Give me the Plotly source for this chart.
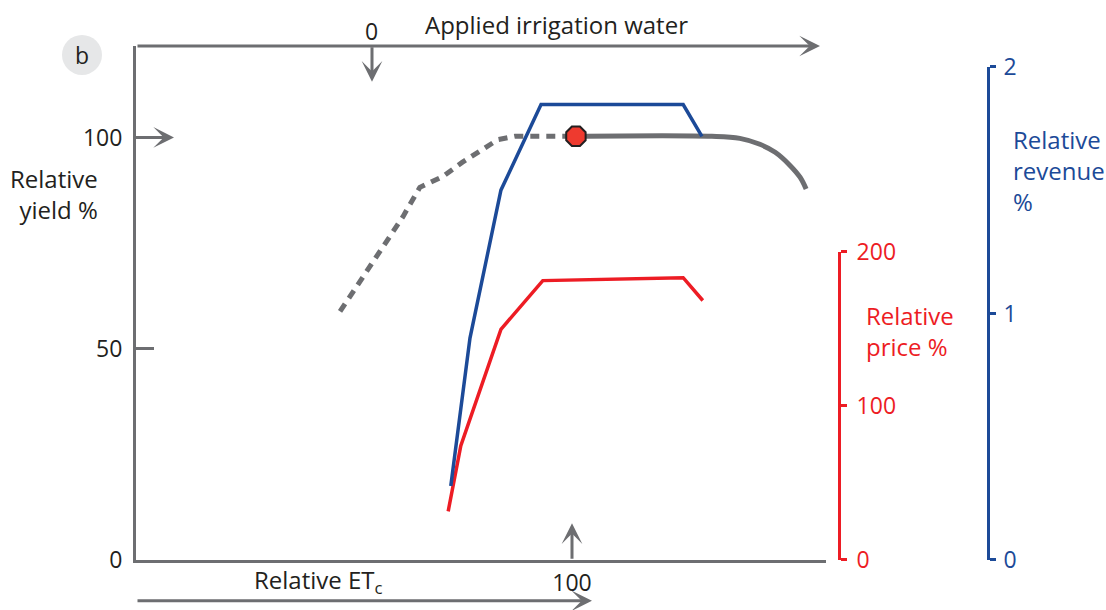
import plotly.graph_objects as go

# ---- data ----
yield_deficit_x = [46.8, 55.3, 61.2, 65.1, 70.4, 74.8, 78.9, 83.0, 86.9, 100.0]
yield_deficit_y = [58.9, 72.1, 81.3, 88.3, 90.9, 94.2, 96.8, 99.6, 100.4, 100.4]
yield_excess_x = [100.0, 132.1, 138.5, 143.1, 146.6, 150.0, 152.3, 153.7]
yield_excess_y = [100.4, 100.4, 99.9, 98.5, 96.6, 93.5, 90.7, 87.9]
optimum_x = [100.9]
optimum_y = [100.4]
price_x = [71.6, 74.5, 83.7, 93.3, 125.5, 130.0]
price_y = [31.6, 74.2, 149.7, 181.3, 183.2, 168.4]
revenue_x = [72.2, 76.6, 83.7, 92.9, 125.5, 129.8]
revenue_y = [0.30, 0.90, 1.50, 1.847, 1.847, 1.718]

yield_ticks = [0, 50, 100]
price_ticks = [0, 100, 200]
revenue_ticks = [0, 1, 2]
et_ticks = [100]

GRAY = "#6d6e71"
RED = "#ed1c24"
BLUE = "#1c4a98"
BLACK = "#231f20"
FONT = "Open Sans"
TICK = 23
LAB = 24

# plot area in screenshot pixels
L, R, T, B = 136, 1000, 46, 563
W, H = 1106, 610
PW, PH = R - L, B - T


def px(xp):
    return (xp - L) / PW


def py(yp):
    return (B - yp) / PH


fig = go.Figure()
fig.add_trace(go.Scatter(x=yield_deficit_x, y=yield_deficit_y, mode="lines",
                         line=dict(color=GRAY, width=5, dash="9px,7px"),
                         xaxis="x", yaxis="y", hoverinfo="skip"))
fig.add_trace(go.Scatter(x=yield_excess_x, y=yield_excess_y, mode="lines",
                         line=dict(color=GRAY, width=5, shape="spline"),
                         xaxis="x", yaxis="y", hoverinfo="skip"))
fig.add_trace(go.Scatter(x=optimum_x, y=optimum_y, mode="markers",
                         marker=dict(symbol="octagon", size=21, color="#ee3a2f",
                                     line=dict(color=BLACK, width=2)),
                         xaxis="x", yaxis="y", cliponaxis=False, hoverinfo="skip"))
fig.add_trace(go.Scatter(x=price_x, y=price_y, mode="lines",
                         line=dict(color=RED, width=3.5),
                         xaxis="x", yaxis="y2", hoverinfo="skip"))
fig.add_trace(go.Scatter(x=revenue_x, y=revenue_y, mode="lines",
                         line=dict(color=BLUE, width=3.5),
                         xaxis="x", yaxis="y3", hoverinfo="skip"))

fig.update_layout(
    width=W, height=H,
    margin=dict(l=L, r=W - R, t=T, b=H - B),
    paper_bgcolor="white", plot_bgcolor="rgba(0,0,0,0)",
    showlegend=False,
    font=dict(family=FONT, size=TICK, color=BLACK),
    xaxis=dict(domain=[0, px(826)], range=[0, 690 / 4.36], showline=True,
               linecolor=GRAY, linewidth=3, showgrid=False, zeroline=False,
               tickvals=et_ticks, ticktext=[str(v) for v in et_ticks], ticks="",
               tickfont=dict(size=TICK, color=BLACK), anchor="y", fixedrange=True),
    yaxis=dict(domain=[0, 1], range=[0, PH / 4.245], showline=True,
               linecolor=GRAY, linewidth=3, showgrid=False, zeroline=False,
               tickvals=yield_ticks, ticktext=[str(v) for v in yield_ticks],
               ticks="inside", ticklen=18, tickwidth=2.5, tickcolor=GRAY,
               ticklabelstandoff=6,
               tickfont=dict(size=TICK, color=BLACK), anchor="x", fixedrange=True),
    yaxis2=dict(domain=[0, (B - 253) / PH], range=[0, 200], anchor="free",
                position=px(839), side="right", showline=True, linecolor=RED,
                linewidth=3, showgrid=False, zeroline=False, tickvals=price_ticks,
                ticks="outside", ticklen=6, tickwidth=3, tickcolor=RED,
                ticklabelstandoff=5,
                tickfont=dict(size=TICK, color=RED), fixedrange=True),
    yaxis3=dict(domain=[0, (B - 67) / PH], range=[0, 2], anchor="free",
                position=px(988), side="right", showline=True, linecolor=BLUE,
                linewidth=3, showgrid=False, zeroline=False, tickvals=revenue_ticks,
                ticks="outside", ticklen=6, tickwidth=3, tickcolor=BLUE,
                ticklabelstandoff=3,
                tickfont=dict(size=TICK, color=BLUE), fixedrange=True),
)

anns = []


def arrow(tail, tip):
    anns.append(dict(xref="paper", yref="paper", x=px(tip[0]), y=py(tip[1]),
                     ax=tail[0] - tip[0], ay=tail[1] - tip[1], axref="pixel", ayref="pixel",
                     text="", showarrow=True, arrowhead=3, arrowsize=1.15,
                     arrowwidth=3, arrowcolor=GRAY, standoff=0, startstandoff=0))


def label(text, x, y, color=BLACK, align="center", xanchor="center", size=LAB):
    anns.append(dict(xref="paper", yref="paper", x=px(x), y=py(y), text=text,
                     showarrow=False, font=dict(size=size, color=color, family=FONT),
                     align=align, xanchor=xanchor, yanchor="middle"))


arrow((136, 46), (820, 46))
arrow((372, 46), (372, 82))
arrow((136, 138), (174, 138))
arrow((572, 563), (572, 526))
arrow((136, 604), (592, 604))

label("Applied irrigation water", 556, 24)
label("0", 371, 31, size=TICK)
label("Relative<br>yield %", 100, 195, align="right", xanchor="right")
label("Relative ET<sub>c</sub>", 318, 584)
label("Relative<br>price %", 864, 333, color=RED, align="left", xanchor="left")
label("Relative<br>revenue<br>%", 1011, 171, color=BLUE, align="left", xanchor="left")
label("b", 82, 55, size=TICK)

fig.update_layout(annotations=anns)
fig.add_shape(type="circle", xref="paper", yref="paper", xsizemode="pixel",
              ysizemode="pixel", xanchor=px(82), yanchor=py(55), x0=-20, x1=20,
              y0=-20, y1=20, fillcolor="#e6e7e8", line=dict(width=0), layer="below")

fig.write_html("out.html", config={"displayModeBar": False},
               post_script="document.body.style.margin='0';document.body.style.overflow='hidden';")
